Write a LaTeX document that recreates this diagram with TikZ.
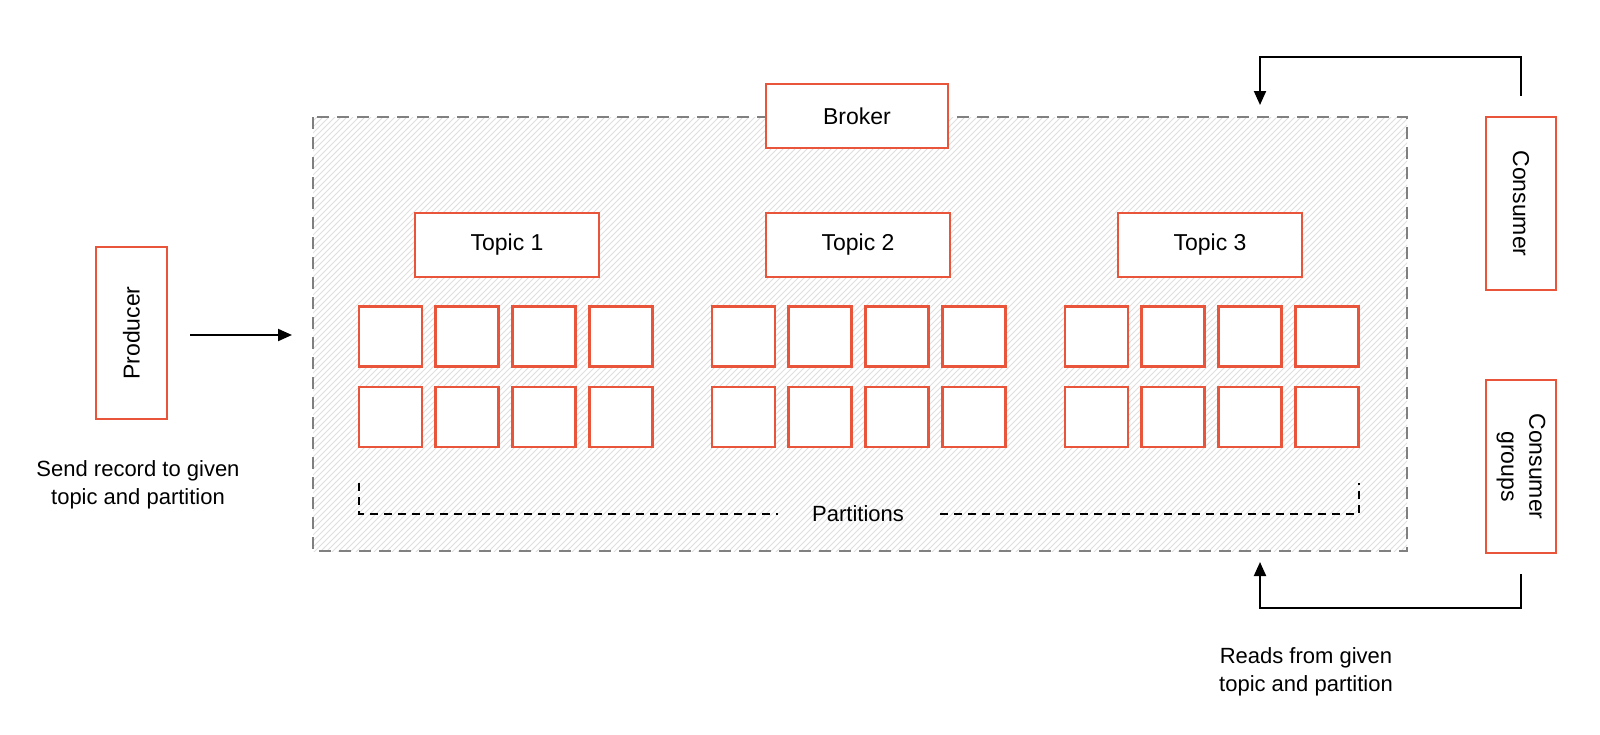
\documentclass[tikz,border=0pt]{standalone}
\usepackage{fontspec}
\setmainfont{Liberation Sans}
\usetikzlibrary{patterns,arrows.meta}
\definecolor{org}{HTML}{E8553A}
\begin{document}
\begin{tikzpicture}[x=0.5pt,y=-0.5pt,
  obox/.style={draw=org,line width=1.4pt,fill=white,inner sep=0pt,font=\fontsize{11.5}{14}\selectfont},
  part/.style={obox,minimum width=31.5pt,minimum height=30pt},
  topic/.style={obox,minimum width=92pt,minimum height=32pt},
  lbl/.style={font=\fontsize{11}{14}\selectfont,align=center},
  arr/.style={line width=1pt,-{Triangle[length=7pt,width=6pt]}}]
\useasboundingbox (0,0) rectangle (1600,734);
\fill[white] (0,0) rectangle (1600,734);
\path[pattern=north east lines,pattern color=gray!25] (313,117) rectangle (1407,551);
\draw[gray,line width=1pt,dash pattern=on 6pt off 4pt] (313,117) rectangle (1407,551);
\node[obox,minimum width=91pt,minimum height=32pt] (broker) at (857,116) {Broker};
\node[topic] (t1) at (507,245) {Topic 1};
\node[topic] (t2) at (858,245) {Topic 2};
\node[topic] (t3) at (1210,245) {Topic 3};
\foreach \t/\x in {1/359,2/712,3/1065}{
  \foreach \i in {0,1,2,3}{
    \node[part] (p\t a\i) at ({\x+31.5+\i*76.7},336.5) {};
    \node[part] (p\t b\i) at ({\x+31.5+\i*76.7},417) {};
  }}
\node[lbl] (plabel) at (858,514) {Partitions};
\coordinate (bl) at (359,483); \coordinate (br) at (1359,483);
\draw[line width=1pt,dash pattern=on 4pt off 3pt] (bl) -- (359,514) -- (778,514);
\draw[line width=1pt,dash pattern=on 4pt off 3pt] (940,514) -- (1359,514) -- (br);
\node[obox,minimum width=86pt,minimum height=35.5pt,rotate=90] (prod) at (131.5,333) {Producer};
\coordinate (pa) at (190,335); \coordinate (pb) at (292,335);
\draw[arr] (pa) -- (pb);
\node[lbl] (sendtxt) at (138,485) {Send record to given\\topic and partition};
\node[obox,minimum width=86.5pt,minimum height=35pt,rotate=-90] (cons) at (1521,203.5) {Consumer};
\node[obox,minimum width=86.5pt,minimum height=35pt,rotate=-90,align=center] (cg) at (1521,466.5) {Consumer\\groups};
\coordinate (ta) at (1260,105); \coordinate (ba) at (1260,562);
\draw[arr] ([yshift=10pt]cons.west) -- (1521,57) -- (1260,57) -- (ta);
\draw[arr] ([yshift=-10pt]cg.east) -- (1521,608) -- (1260,608) -- (ba);
\node[lbl] (readtxt) at (1306,672) {Reads from given\\topic and partition};
\end{tikzpicture}
\end{document}
